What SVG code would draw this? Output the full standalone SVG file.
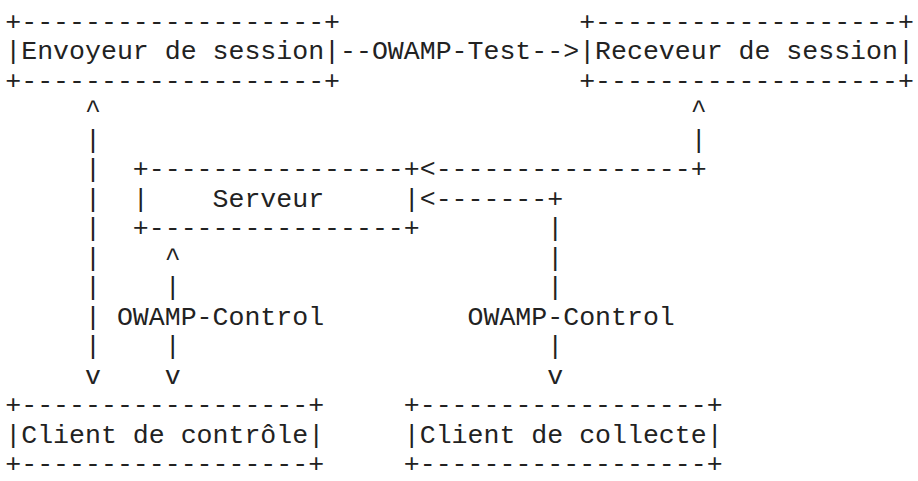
<svg xmlns="http://www.w3.org/2000/svg" width="918" height="481" viewBox="0 0 918 481" xml:space="preserve">
  <style>
    text { font-family: "Liberation Mono", "Courier New", monospace; font-size: 26.57px; fill: #222; white-space: pre; }
  </style>
  <rect width="918" height="481" fill="#fff"/>
  <!-- column c sits at x = 5.3 + c*15.94; row r baseline at y = 29.5 + r*29.5 -->
  <g id="sender">
    <text x="5.3" y="29.5">+-------------------+</text>
    <text x="5.3" y="59">|Envoyeur de session|</text>
    <text x="5.3" y="88.5">+-------------------+</text>
  </g>
  <g id="receiver">
    <text x="579.14" y="29.5">+-------------------+</text>
    <text x="579.14" y="59">|Receveur de session|</text>
    <text x="579.14" y="88.5">+-------------------+</text>
  </g>
  <g id="server">
    <text x="132.82" y="177">+----------------+</text>
    <text x="132.82" y="206.5">|    Serveur     |</text>
    <text x="132.82" y="236">+----------------+</text>
  </g>
  <g id="control-client">
    <text x="5.3" y="413">+------------------+</text>
    <text x="5.3" y="442.5">|Client de contrôle|</text>
    <text x="5.3" y="472">+------------------+</text>
  </g>
  <g id="collect-client">
    <text x="403.8" y="413">+------------------+</text>
    <text x="403.8" y="442.5">|Client de collecte|</text>
    <text x="403.8" y="472">+------------------+</text>
  </g>
  <g id="connectors">
    <!-- test stream sender -> receiver -->
    <text x="340.04" y="59">--OWAMP-Test--&gt;</text>
    <!-- sender <-> control client, column 5 -->
    <text x="85.0" y="118">^</text>
    <text x="85.0" y="147.5">|</text>
    <text x="85.0" y="177">|</text>
    <text x="85.0" y="206.5">|</text>
    <text x="85.0" y="236">|</text>
    <text x="85.0" y="265.5">|</text>
    <text x="85.0" y="295">|</text>
    <text x="85.0" y="324.5">|</text>
    <text x="85.0" y="354">|</text>
    <text x="85.0" y="383.5">v</text>
    <!-- receiver -> server -->
    <text x="690.72" y="118">^</text>
    <text x="690.72" y="147.5">|</text>
    <text x="419.74" y="177">&lt;----------------+</text>
    <!-- collect client <-> server -->
    <text x="419.74" y="206.5">&lt;-------+</text>
    <text x="547.26" y="236">|</text>
    <text x="547.26" y="265.5">|</text>
    <text x="547.26" y="295">|</text>
    <text x="467.56" y="324.5">OWAMP-Control</text>
    <text x="547.26" y="354">|</text>
    <text x="547.26" y="383.5">v</text>
    <!-- control client <-> server -->
    <text x="164.7" y="265.5">^</text>
    <text x="164.7" y="295">|</text>
    <text x="116.88" y="324.5">OWAMP-Control</text>
    <text x="164.7" y="354">|</text>
    <text x="164.7" y="383.5">v</text>
  </g>
</svg>
